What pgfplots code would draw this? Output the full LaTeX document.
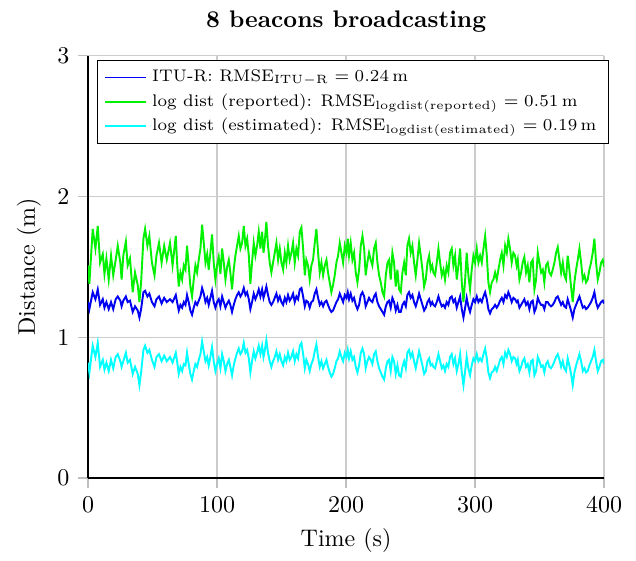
\documentclass[border=0pt]{standalone}
\usepackage{pgfplots}
\usepackage{pgfplotstable}
\pgfplotsset{compat=1.18}
\definecolor{itublue}{rgb}{0,0,0.95}
\definecolor{repgreen}{rgb}{0,0.95,0}
\definecolor{estcyan}{rgb}{0,1,1}

% time (s), log dist reported, ITU-R, log dist estimated
\pgfplotstableread{
t g b c
0 1.51 1.25 0.82
1.0 1.38 1.20 0.75
3.6 1.77 1.32 0.94
5.7 1.63 1.27 0.86
7.5 1.79 1.34 0.96
9.3 1.53 1.23 0.79
11.4 1.59 1.27 0.84
12.7 1.45 1.21 0.77
14.2 1.56 1.25 0.82
16.0 1.41 1.20 0.76
17.8 1.58 1.25 0.84
19.5 1.44 1.20 0.78
21.4 1.55 1.27 0.86
23.0 1.65 1.29 0.88
25.0 1.53 1.26 0.83
26.0 1.41 1.22 0.79
27.3 1.58 1.26 0.83
29.3 1.68 1.29 0.89
30.7 1.51 1.25 0.82
32.5 1.56 1.26 0.84
34.6 1.32 1.18 0.74
36.4 1.46 1.22 0.79
38.5 1.37 1.19 0.74
39.8 1.25 1.14 0.66
41.1 1.39 1.20 0.75
42.9 1.70 1.32 0.91
44.2 1.77 1.33 0.94
46.0 1.65 1.29 0.89
47.5 1.72 1.31 0.91
49.5 1.53 1.25 0.84
51.5 1.44 1.22 0.79
53.0 1.58 1.27 0.86
55.0 1.67 1.29 0.88
57.0 1.53 1.24 0.83
59.0 1.65 1.28 0.87
61.0 1.55 1.25 0.83
63.5 1.67 1.27 0.86
65.5 1.51 1.25 0.82
68.0 1.72 1.30 0.89
69.0 1.53 1.25 0.83
70.3 1.36 1.19 0.74
71.6 1.46 1.23 0.79
72.9 1.41 1.21 0.76
74.2 1.51 1.25 0.81
75.5 1.48 1.23 0.80
76.7 1.65 1.30 0.89
78.0 1.51 1.25 0.81
79.3 1.36 1.19 0.74
80.6 1.29 1.16 0.70
81.9 1.41 1.21 0.76
83.2 1.51 1.25 0.81
84.5 1.46 1.23 0.79
85.8 1.55 1.26 0.84
87.1 1.63 1.29 0.88
88.4 1.80 1.35 0.97
89.7 1.67 1.31 0.90
91.0 1.53 1.25 0.83
92.3 1.59 1.28 0.86
93.5 1.48 1.23 0.80
94.8 1.60 1.28 0.86
96.1 1.73 1.33 0.93
97.4 1.53 1.25 0.83
98.7 1.41 1.21 0.76
100.0 1.51 1.25 0.81
101.3 1.57 1.27 0.85
102.6 1.45 1.22 0.78
103.9 1.63 1.29 0.88
105.2 1.53 1.25 0.83
106.5 1.41 1.21 0.76
107.8 1.50 1.24 0.81
109.1 1.55 1.26 0.84
110.3 1.46 1.23 0.79
111.6 1.34 1.18 0.73
112.9 1.48 1.23 0.80
114.2 1.58 1.27 0.85
115.5 1.65 1.30 0.89
116.8 1.72 1.32 0.92
118.1 1.63 1.29 0.88
119.4 1.67 1.31 0.90
120.7 1.79 1.35 0.96
122.0 1.65 1.30 0.89
123.3 1.70 1.32 0.91
124.6 1.58 1.27 0.85
125.8 1.38 1.20 0.75
127.1 1.53 1.25 0.83
128.4 1.67 1.31 0.90
129.7 1.58 1.27 0.85
131.0 1.65 1.30 0.89
132.3 1.75 1.34 0.94
133.6 1.63 1.29 0.88
134.9 1.75 1.34 0.94
136.0 1.60 1.28 0.86
136.9 1.67 1.31 0.90
138.2 1.82 1.36 0.98
139.5 1.65 1.30 0.89
140.8 1.53 1.25 0.83
142.1 1.46 1.23 0.79
143.4 1.53 1.25 0.83
144.7 1.60 1.28 0.86
146.0 1.67 1.31 0.90
147.3 1.55 1.26 0.84
148.6 1.63 1.29 0.88
149.9 1.53 1.25 0.83
151.2 1.48 1.23 0.80
152.5 1.60 1.28 0.86
153.7 1.53 1.25 0.83
155.0 1.65 1.30 0.89
156.3 1.55 1.26 0.84
157.6 1.60 1.28 0.86
158.9 1.67 1.31 0.90
160.2 1.53 1.25 0.83
161.5 1.63 1.29 0.88
162.8 1.58 1.27 0.85
164.1 1.75 1.34 0.94
165.4 1.78 1.35 0.96
166.7 1.63 1.29 0.88
168.0 1.44 1.22 0.78
169.2 1.55 1.26 0.84
170.5 1.51 1.25 0.81
171.8 1.41 1.21 0.76
173.1 1.51 1.25 0.81
174.4 1.55 1.26 0.84
175.7 1.67 1.31 0.90
177.0 1.77 1.34 0.95
178.3 1.60 1.28 0.86
179.6 1.46 1.23 0.79
180.9 1.53 1.25 0.83
182.2 1.44 1.22 0.78
183.5 1.51 1.25 0.81
184.8 1.55 1.26 0.84
186.0 1.46 1.23 0.79
187.3 1.39 1.20 0.75
188.6 1.32 1.18 0.72
189.9 1.37 1.19 0.74
191.2 1.44 1.22 0.78
192.5 1.53 1.25 0.83
193.8 1.58 1.27 0.85
195.1 1.67 1.31 0.90
196.4 1.60 1.28 0.86
197.7 1.53 1.25 0.83
199.0 1.65 1.30 0.89
200.3 1.60 1.28 0.86
201.3 1.70 1.32 0.91
202.3 1.58 1.27 0.85
203.6 1.67 1.31 0.90
204.9 1.55 1.26 0.84
206.2 1.60 1.28 0.86
207.5 1.46 1.23 0.79
208.8 1.39 1.20 0.75
210.1 1.48 1.23 0.80
211.4 1.65 1.30 0.89
212.7 1.72 1.32 0.92
214.0 1.63 1.29 0.88
215.2 1.44 1.22 0.78
216.5 1.53 1.25 0.83
217.8 1.60 1.28 0.86
219.1 1.55 1.26 0.84
220.4 1.51 1.25 0.81
221.7 1.63 1.29 0.88
223.0 1.67 1.31 0.90
224.3 1.53 1.25 0.83
225.6 1.44 1.22 0.78
226.9 1.39 1.20 0.75
228.2 1.32 1.18 0.72
229.5 1.29 1.16 0.70
230.8 1.44 1.22 0.78
232.1 1.53 1.25 0.83
233.3 1.55 1.26 0.84
234.6 1.41 1.21 0.76
235.9 1.60 1.28 0.86
237.2 1.53 1.25 0.83
238.5 1.36 1.19 0.74
239.8 1.48 1.23 0.80
241.1 1.34 1.18 0.73
242.4 1.32 1.18 0.72
243.7 1.46 1.23 0.79
245.0 1.53 1.25 0.83
246.3 1.44 1.22 0.78
247.5 1.65 1.30 0.89
248.8 1.70 1.32 0.91
250.1 1.60 1.28 0.86
251.4 1.65 1.30 0.89
252.7 1.53 1.25 0.83
254.0 1.44 1.22 0.78
255.3 1.55 1.26 0.84
256.6 1.67 1.31 0.90
257.9 1.58 1.27 0.85
259.2 1.48 1.23 0.80
260.5 1.36 1.19 0.74
261.8 1.41 1.21 0.76
263.1 1.53 1.25 0.83
264.4 1.58 1.27 0.85
265.6 1.48 1.23 0.80
266.8 1.51 1.25 0.81
267.7 1.46 1.23 0.79
269.0 1.44 1.22 0.78
270.3 1.53 1.25 0.83
271.6 1.63 1.29 0.88
272.9 1.53 1.25 0.83
274.2 1.44 1.22 0.78
275.5 1.48 1.23 0.80
276.7 1.41 1.21 0.76
278.0 1.51 1.25 0.81
279.3 1.46 1.23 0.79
280.6 1.60 1.28 0.86
281.9 1.63 1.29 0.88
283.2 1.51 1.25 0.81
284.5 1.58 1.27 0.85
285.8 1.41 1.21 0.76
287.1 1.51 1.25 0.81
288.4 1.63 1.29 0.88
289.7 1.39 1.20 0.75
291.0 1.25 1.14 0.66
292.3 1.41 1.21 0.76
293.5 1.60 1.28 0.86
294.8 1.44 1.22 0.78
296.1 1.34 1.18 0.73
297.4 1.48 1.23 0.80
298.7 1.58 1.27 0.85
300.0 1.53 1.25 0.83
301.3 1.63 1.29 0.88
302.6 1.53 1.25 0.83
303.9 1.58 1.27 0.85
305.2 1.53 1.25 0.83
306.5 1.63 1.29 0.88
307.8 1.72 1.32 0.92
309.1 1.58 1.27 0.85
310.3 1.39 1.20 0.75
311.6 1.32 1.17 0.71
312.9 1.39 1.20 0.75
314.2 1.41 1.21 0.76
315.5 1.46 1.23 0.79
316.8 1.41 1.21 0.76
318.1 1.48 1.23 0.80
319.4 1.55 1.26 0.84
320.7 1.60 1.28 0.86
322.0 1.51 1.25 0.81
323.3 1.65 1.30 0.89
324.6 1.60 1.28 0.86
325.8 1.70 1.32 0.91
327.1 1.63 1.29 0.88
328.4 1.53 1.25 0.83
329.7 1.60 1.28 0.86
331.0 1.58 1.27 0.85
332.2 1.51 1.25 0.81
333.1 1.55 1.26 0.84
334.4 1.41 1.21 0.76
335.7 1.46 1.23 0.79
336.9 1.53 1.25 0.83
338.2 1.57 1.27 0.85
339.5 1.46 1.23 0.79
340.8 1.51 1.25 0.81
342.1 1.39 1.20 0.75
343.4 1.53 1.25 0.83
344.7 1.55 1.26 0.84
346.0 1.34 1.18 0.73
347.3 1.41 1.21 0.76
348.6 1.60 1.28 0.86
349.9 1.53 1.25 0.83
351.2 1.46 1.23 0.79
352.5 1.48 1.23 0.80
353.7 1.39 1.20 0.75
355.0 1.51 1.25 0.81
356.3 1.53 1.25 0.83
357.6 1.46 1.23 0.79
358.9 1.44 1.22 0.78
360.2 1.48 1.23 0.80
361.5 1.53 1.25 0.83
362.8 1.60 1.28 0.86
364.1 1.64 1.29 0.88
365.4 1.55 1.26 0.84
366.7 1.46 1.23 0.79
368.0 1.53 1.25 0.83
369.2 1.44 1.22 0.78
370.5 1.41 1.21 0.76
371.8 1.58 1.27 0.85
373.1 1.48 1.23 0.80
374.4 1.36 1.19 0.74
375.7 1.25 1.14 0.66
377.0 1.39 1.20 0.75
378.3 1.48 1.23 0.80
379.6 1.55 1.26 0.84
380.9 1.63 1.29 0.88
382.2 1.53 1.25 0.83
383.5 1.41 1.21 0.76
384.8 1.44 1.22 0.78
386.0 1.39 1.20 0.75
387.3 1.41 1.21 0.76
388.6 1.48 1.23 0.80
389.9 1.53 1.25 0.83
391.2 1.60 1.28 0.86
392.5 1.70 1.32 0.91
393.8 1.53 1.25 0.83
395.1 1.41 1.21 0.76
396.4 1.46 1.23 0.79
397.7 1.53 1.25 0.83
399.0 1.55 1.26 0.84
400.0 1.50 1.24 0.81
}\distdata

\begin{document}
\begin{tikzpicture}
\begin{axis}[
  scale only axis,
  width=215pt, height=176pt,
  xmin=0, xmax=400, ymin=0, ymax=3,
  xtick={0,100,200,300,400},
  ytick={0,1,2,3},
  axis x line*=bottom, axis y line*=left,
  axis line style={-, black, semithick},
  tick align=outside,
  tick style={black!25, semithick},
  grid=major,
  grid style={black!20, semithick},
  title={8 beacons broadcasting},
  title style={font=\bfseries},
  xlabel={Time (s)},
  ylabel={Distance (m)},
  legend cell align=left,
  legend style={at={(0.017,0.99)}, anchor=north west, font=\scriptsize,
    draw=black, fill=white, row sep=-0.5pt},
]
\addplot[itublue, line width=0.8pt] table[x=t, y=b] {\distdata};
\addlegendentry{ITU-R: $\mathrm{RMSE}_{\mathrm{ITU-R}} = 0.24\,\mathrm{m}$}
\addplot[repgreen, line width=0.8pt] table[x=t, y=g] {\distdata};
\addlegendentry{log dist (reported): $\mathrm{RMSE}_{\mathrm{logdist(reported)}} = 0.51\,\mathrm{m}$}
\addplot[estcyan, line width=0.8pt] table[x=t, y=c] {\distdata};
\addlegendentry{log dist (estimated): $\mathrm{RMSE}_{\mathrm{logdist(estimated)}} = 0.19\,\mathrm{m}$}
\end{axis}
\path ([shift={(-36.7pt,-30.4pt)}]current axis.south west)
  rectangle ([shift={(228.3pt,199.2pt)}]current axis.south west);
\end{tikzpicture}
\end{document}
